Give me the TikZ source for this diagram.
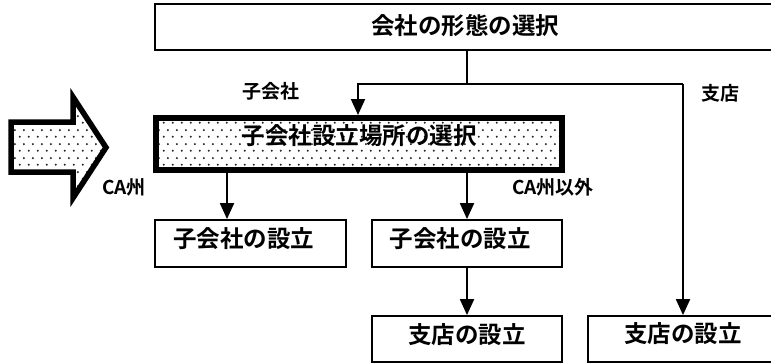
\documentclass[tikz,border=0pt]{standalone}
\usepackage{fontspec}
\setmainfont{Noto Sans CJK JP}[UprightFont={* Bold}]
\usetikzlibrary{arrows.meta,patterns}
\pgfdeclarepatternformonly{stagdots}{\pgfpoint{0pt}{0pt}}{\pgfpoint{9pt}{14pt}}{\pgfpoint{9pt}{14pt}}{%
  \pgfpathcircle{\pgfpoint{2pt}{3.5pt}}{1.2pt}%
  \pgfpathcircle{\pgfpoint{6.5pt}{10.5pt}}{1.2pt}%
  \pgfusepath{fill}}
\tikzset{
  box/.style={draw, line width=1.8pt, inner sep=0pt, font=\fontsize{23.5}{23.5}\selectfont},
  thickbox/.style={draw, line width=6pt, inner sep=0pt, preaction={fill=white}, pattern=stagdots, pattern color=black!85, font=\fontsize{23.5}{23.5}\selectfont},
  lab/.style={inner sep=0pt, font=\fontsize{19}{19}\selectfont},
  conn/.style={line width=2pt},
  arr/.style={line width=2pt, -{Triangle[length=16pt,width=14pt]}},
}
\begin{document}
\begin{tikzpicture}[x=1pt,y=-1pt]
\useasboundingbox (0,0) rectangle (771,364);
% big dotted arrow
\draw[line width=5.5pt, miter limit=10, preaction={fill=white}, pattern=stagdots, pattern color=black!85]
  (11,122) -- (73,122) -- (73,97) -- (106,147.5) -- (73,198) -- (73,172) -- (11,172) -- cycle;
% boxes
\node[box, minimum width=620pt, minimum height=46pt] (top) at (465,27) {\raisebox{1pt}[\height][\depth]{会社の形態の選択}};
\node[thickbox, minimum width=406pt, minimum height=52pt] (sel) at (359,144) {\raisebox{8pt}[\height][\depth]{子会社設立場所の選択}};
\node[box, minimum width=191pt, minimum height=47pt] (b1) at (250.5,243.5) {\raisebox{5pt}[\height][\depth]{子会社の設立}\hspace*{14pt}};
\node[box, minimum width=190pt, minimum height=47pt] (b2) at (467,243.5) {\raisebox{5pt}[\height][\depth]{子会社の設立}\hspace*{14pt}};
\node[box, minimum width=190pt, minimum height=46pt] (b3) at (467,339) {\raisebox{4pt}[\height][\depth]{支店の設立}};
\node[box, minimum width=187pt, minimum height=46pt] (b4) at (681.5,339) {\raisebox{5pt}[\height][\depth]{\hspace*{3pt}支店の設立}};
% labels
\node[lab] (l1) at (271,91) {子会社};
\node[lab] (l2) at (720,93) {支店};
\node[lab] (l3) at (124,187.5) {CA州};
\node[lab] (l4) at (553,187.5) {CA州以外};
% connectors
\coordinate (j) at (467,84);
\coordinate (k) at (683,84);
\coordinate (a1) at (358,84);
\coordinate (c1) at (227,0);
\draw[conn] (top.south -| j) -- (j);
\draw[conn] (j) -- (k);
\draw[arr] (j) -- (a1) -- (a1 |- sel.north);
\draw[arr] (k) -- (k |- b4.north);
\draw[arr] (sel.south -| c1) -- (b1.north -| c1);
\draw[arr] (sel.south -| j) -- (b2.north -| j);
\draw[arr] (b2.south -| j) -- (b3.north -| j);
\end{tikzpicture}
\end{document}
